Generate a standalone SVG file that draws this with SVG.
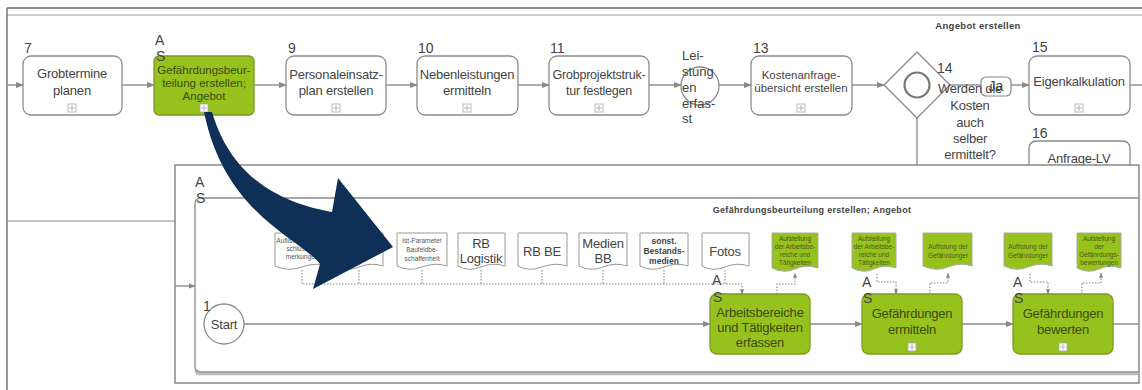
<svg xmlns="http://www.w3.org/2000/svg" width="1142" height="390" viewBox="0 0 1142 390">
<defs>
<style>
text{font-family:"Liberation Sans",Arial,sans-serif;fill:#444}
.t14{font-size:14px}.t13{font-size:13px}.t12{font-size:11.5px}
.n{font-size:13px;letter-spacing:-0.2px}
.c{text-anchor:middle}
.node{fill:#fff;stroke:#8a8a8a;stroke-width:1.3}
.green{fill:#97c21e;stroke:#7a9a22;stroke-width:1.3}
.flow{fill:none;stroke:#8a8a8a;stroke-width:1.4}
.dot{fill:none;stroke:#888;stroke-width:1.1;stroke-dasharray:1.5 1.5}
.doc{fill:#fff;stroke:#999;stroke-width:1}
.gdoc{fill:#97c21e;stroke:#aaa;stroke-width:1}
.tiny{font-size:6.5px;fill:#555}
.gt{font-size:6.5px;fill:#4b5a14}
.plus{fill:#fff;stroke:#aaa;stroke-width:0.8}
.gtext{fill:#3c4a10}
</style>
<marker id="ah" viewBox="0 0 8 8" refX="7" refY="4" markerWidth="6" markerHeight="6" orient="auto"><path d="M0,1 L8,4 L0,7 Z" fill="#888"/></marker>
<marker id="ahs" viewBox="0 0 8 8" refX="7" refY="4" markerWidth="5" markerHeight="5" orient="auto"><path d="M0,1 L8,4 L0,7 Z" fill="#888"/></marker>
<g id="plusicon"><rect x="-4" y="-4" width="8" height="8" class="plus"/><path d="M-3,0 H3 M0,-3 V3" stroke="#aaa" stroke-width="0.8"/></g>
</defs>
<rect width="1142" height="390" fill="#fff"/>

<!-- background frame of top diagram -->
<g id="frame">
<path d="M7,8 H1142" stroke="#666" stroke-width="1.5"/>
<path d="M7,15 H1142" stroke="#999" stroke-width="1.2"/>
<path d="M7,8 V390" stroke="#777" stroke-width="1.5"/>
<path d="M7,221 H175" stroke="#888" stroke-width="1.2"/>
<path d="M917,118 V165" stroke="#888" stroke-width="1.3"/>
<text x="978" y="29" class="c" style="font-size:9.5px;font-weight:bold;fill:#444;letter-spacing:0.3px">Angebot erstellen</text>
</g>

<!-- connectors top row -->
<g id="connectors-top">
<path class="flow" d="M7,85 H23" marker-end="url(#ah)"/>
<path class="flow" d="M122,85 H154" marker-end="url(#ah)"/>
<path class="flow" d="M254,85 H286" marker-end="url(#ah)"/>
<path class="flow" d="M386,85 H417" marker-end="url(#ah)"/>
<path class="flow" d="M518,85 H549" marker-end="url(#ah)"/>
<path class="flow" d="M649,85 H681" marker-end="url(#ah)"/>
<path class="flow" d="M719,85 H751" marker-end="url(#ah)"/>
<path class="flow" d="M852,85 H884" marker-end="url(#ah)"/>
<path class="flow" d="M950,85 H981"/>
<path class="flow" d="M1011,85 H1029" marker-end="url(#ah)"/>
<path class="flow" d="M1130,85 H1142"/>
</g>

<g id="n7">
<rect x="23" y="56" width="99" height="59" rx="8" class="node"/>
<text x="24" y="53" class="t14">7</text>
<text x="72" y="78" class="n c">Grobtermine</text>
<text x="72" y="95" class="n c">planen</text>
<use href="#plusicon" x="72" y="108"/>
</g>
<g id="n8">
<rect x="154" y="56" width="100" height="59" rx="5" class="green"/>
<text x="155" y="45" class="t14">A</text>
<text x="156" y="61" class="t14">S</text>
<text x="204" y="74" class="t12 c gtext">Gefährdungsbeur-</text>
<text x="204" y="87" class="t12 c gtext">teilung erstellen;</text>
<text x="204" y="100" class="t12 c gtext">Angebot</text>
<use href="#plusicon" x="204" y="108"/>
</g>
<g id="n9">
<rect x="286" y="56" width="100" height="59" rx="8" class="node"/>
<text x="288" y="53" class="t14">9</text>
<text x="336" y="79" class="n c">Personaleinsatz-</text>
<text x="336" y="95" class="n c">plan erstellen</text>
<use href="#plusicon" x="336" y="108"/>
</g>
<g id="n10">
<rect x="417" y="56" width="101" height="59" rx="8" class="node"/>
<text x="418" y="53" class="t14">10</text>
<text x="467" y="79" class="n c">Nebenleistungen</text>
<text x="467" y="95" class="n c">ermitteln</text>
<use href="#plusicon" x="467" y="108"/>
</g>
<g id="n11">
<rect x="549" y="56" width="100" height="59" rx="8" class="node"/>
<text x="550" y="53" class="t14">11</text>
<text x="599" y="79" class="c" style="font-size:12.5px;letter-spacing:-0.2px">Grobprojektstruk-</text>
<text x="599" y="95" class="c" style="font-size:12.5px;letter-spacing:-0.2px">tur festlegen</text>
<use href="#plusicon" x="599" y="108"/>
</g>
<g id="n12">
<circle cx="700" cy="86" r="19" fill="#fff" stroke="#8a8a8a" stroke-width="1.3"/>
<text x="682" y="60" class="t13">Lei-</text>
<text x="682" y="76" class="t13">stung</text>
<text x="682" y="92" class="t13">en</text>
<text x="682" y="108" class="t13">erfas-</text>
<text x="682" y="123" class="t13">st</text>
</g>
<g id="n13">
<rect x="751" y="56" width="101" height="59" rx="8" class="node"/>
<text x="753" y="53" class="t14">13</text>
<text x="801" y="79" class="c" style="font-size:11.5px">Kostenanfrage-</text>
<text x="801" y="92" class="c" style="font-size:11.5px">übersicht erstellen</text>
<use href="#plusicon" x="801" y="108"/>
</g>
<g id="n14">
<path d="M917,52 L950,85 L917,118 L884,85 Z" fill="#fff" stroke="#8a8a8a" stroke-width="1.3"/>
<circle cx="917" cy="85" r="12.5" fill="none" stroke="#777" stroke-width="2.2"/>
<text x="937" y="73" class="t14">14</text>
<rect x="981" y="77" width="30" height="19" rx="5" fill="#fff" stroke="#8a8a8a" stroke-width="1.2"/>
<text x="996" y="91" class="t14 c">Ja</text>
<text x="970" y="93" class="n c">Werden die</text>
<text x="970" y="110" class="n c">Kosten</text>
<text x="970" y="127" class="n c">auch</text>
<text x="970" y="143" class="n c">selber</text>
<text x="970" y="159" class="n c">ermittelt?</text>
</g>
<g id="n15">
<rect x="1029" y="56" width="101" height="59" rx="8" class="node"/>
<text x="1032" y="52" class="t14">15</text>
<text x="1079" y="86" class="n c">Eigenkalkulation</text>
<use href="#plusicon" x="1079" y="108"/>
</g>
<g id="n16">
<path d="M1029,165 V149 Q1029,141 1037,141 H1122 Q1130,141 1130,149 V165" class="node"/>
<text x="1032" y="138" class="t14">16</text>
<text x="1079" y="163" class="n c">Anfrage-LV</text>
</g>

<!-- overlay panel -->
<g id="panel">
<rect x="175" y="165" width="964" height="218" fill="#fff" stroke="#777" stroke-width="1.3"/>
<path d="M1139,374 H199 Q196,374 196,370" fill="none" stroke="#bbb" stroke-width="2.5"/>
<path d="M1139,198 H201 Q195,198 195,204 V366 Q195,372 201,372 H1139" fill="none" stroke="#8a8a8a" stroke-width="1.3"/>
<text x="195" y="187" class="t14">A</text>
<text x="196" y="203" class="t14">S</text>
<text x="812" y="213" class="c" style="font-size:9px;font-weight:bold;fill:#444;letter-spacing:0.3px">Gefährdungsbeurteilung erstellen; Angebot</text>
</g>

<!-- connectors bottom -->
<g id="connectors-bottom">
<path class="flow" d="M175,286 H195" marker-end="url(#ahs)"/>
<path class="flow" d="M244,324 H710" marker-end="url(#ah)"/>
<path class="flow" d="M810,324 H862" marker-end="url(#ah)"/>
<path class="flow" d="M962,324 H1013" marker-end="url(#ah)"/>
<path class="flow" d="M1113,324 H1139"/>
<path class="dot" d="M302,270 V284 H742 V294" marker-end="url(#ahs)"/>
<path class="dot" d="M359,270 V284 M422,270 V284 M481,270 V284 M542,270 V284 M603,270 V284 M664,270 V284 M725,270 V284"/>
<path class="dot" d="M777,294 V284 H795 V273" marker-end="url(#ahs)"/>
<path class="dot" d="M877,274 V282 H896 V294" marker-end="url(#ahs)"/>
<path class="dot" d="M930,294 V283 H948 V273" marker-end="url(#ahs)"/>
<path class="dot" d="M1030,274 V282 H1048 V294" marker-end="url(#ahs)"/>
<path class="dot" d="M1082,294 V283 H1101 V273" marker-end="url(#ahs)"/>
</g>

<!-- documents -->
<g id="d1"><path class="doc" d="M275,233 H330 V266 Q316,262 302,267 T275,266 Z"/>
<text x="302" y="243" class="tiny c">Auflistung der Ab-</text><text x="302" y="251" class="tiny c">schlussbe-</text><text x="302" y="259" class="tiny c">merkungen</text></g>
<g id="d2"><path class="doc" d="M335,233 H383 V266 Q371,262 359,267 T335,266 Z"/></g>
<g id="d3"><path class="doc" d="M397,233 H447 V266 Q435,262 422,267 T397,266 Z"/>
<text x="422" y="243" class="tiny c">Ist-Parameter</text><text x="422" y="252" class="tiny c">Baufeldbe-</text><text x="422" y="261" class="tiny c">schaffenheit</text></g>
<g id="d4"><path class="doc" d="M458,233 H505 V266 Q493,262 481,267 T458,266 Z"/>
<text x="481" y="248" class="n c">RB</text><text x="481" y="263" class="n c">Logistik</text></g>
<g id="d5"><path class="doc" d="M518,233 H567 V266 Q555,262 542,267 T518,266 Z"/>
<text x="542" y="256" class="n c">RB BE</text></g>
<g id="d6"><path class="doc" d="M579,233 H627 V266 Q615,262 603,267 T579,266 Z"/>
<text x="603" y="248" class="n c">Medien</text><text x="603" y="263" class="n c">BB</text></g>
<g id="d7"><path class="doc" d="M640,233 H688 V266 Q676,262 664,267 T640,266 Z"/>
<text x="664" y="244" class="c" style="font-size:8.5px;font-weight:bold">sonst.</text><text x="664" y="254" class="c" style="font-size:8.5px;font-weight:bold">Bestands-</text><text x="664" y="264" class="c" style="font-size:8.5px;font-weight:bold">medien</text></g>
<g id="d8"><path class="doc" d="M702,233 H749 V266 Q737,262 725,267 T702,266 Z"/>
<text x="725" y="256" class="n c">Fotos</text></g>
<g id="g1"><path class="gdoc" d="M772,233 H818 V268 Q806,264 795,269 T772,268 Z"/>
<text x="795" y="241" class="gt c">Aufstellung</text><text x="795" y="249" class="gt c">der Arbeitsbe-</text><text x="795" y="257" class="gt c">reiche und</text><text x="795" y="265" class="gt c">Tätigkeiten</text></g>
<g id="g2"><path class="gdoc" d="M852,233 H896 V268 Q885,264 874,269 T852,268 Z"/>
<text x="874" y="241" class="gt c">Aufstellung</text><text x="874" y="249" class="gt c">der Arbeitsbe-</text><text x="874" y="257" class="gt c">reiche und</text><text x="874" y="265" class="gt c">Tätigkeiten</text></g>
<g id="g3"><path class="gdoc" d="M923,233 H972 V266 Q960,262 948,267 T923,266 Z"/>
<text x="948" y="249" class="gt c">Auflistung der</text><text x="948" y="258" class="gt c">Gefährdunger</text></g>
<g id="g4"><path class="gdoc" d="M1004,233 H1052 V266 Q1040,262 1028,267 T1004,266 Z"/>
<text x="1028" y="249" class="gt c">Auflistung der</text><text x="1028" y="258" class="gt c">Gefährdunger</text></g>
<g id="g5"><path class="gdoc" d="M1077,233 H1121 V268 Q1110,264 1099,269 T1077,268 Z"/>
<text x="1099" y="241" class="gt c">Aufstellung</text><text x="1099" y="249" class="gt c">der</text><text x="1099" y="257" class="gt c">Gefährdungs-</text><text x="1099" y="265" class="gt c">bewertungen</text></g>

<!-- bottom nodes -->
<g id="start">
<circle cx="224" cy="324" r="20" fill="#fff" stroke="#8a8a8a" stroke-width="1.3"/>
<text x="203" y="311" class="t14">1</text>
<text x="224" y="329" class="n c">Start</text>
</g>
<g id="ta">
<rect x="710" y="294" width="100" height="60" rx="7" class="green"/>
<text x="712" y="285" class="t14">A</text>
<text x="713" y="302" class="t14">S</text>
<text x="760" y="317" class="n c gtext">Arbeitsbereiche</text>
<text x="760" y="332" class="n c gtext">und Tätigkeiten</text>
<text x="760" y="347" class="n c gtext">erfassen</text>
</g>
<g id="tb">
<rect x="862" y="294" width="100" height="60" rx="7" class="green"/>
<text x="862" y="287" class="t14">A</text>
<text x="863" y="303" class="t14">S</text>
<text x="912" y="318" class="n c gtext">Gefährdungen</text>
<text x="912" y="334" class="n c gtext">ermitteln</text>
<use href="#plusicon" x="912" y="347"/>
</g>
<g id="tc">
<rect x="1013" y="294" width="100" height="60" rx="7" class="green"/>
<text x="1013" y="287" class="t14">A</text>
<text x="1014" y="303" class="t14">S</text>
<text x="1063" y="318" class="n c gtext">Gefährdungen</text>
<text x="1063" y="334" class="n c gtext">bewerten</text>
<use href="#plusicon" x="1063" y="347"/>
</g>

<!-- big curved arrow -->
<g id="big-arrow">
<path d="M204,112 L212,112 C224,152 252,198 332,212 L338,178 L393,247 L313,289 L320,264 C300,238 225,215 204,112 Z" fill="#0e2f56"/>
</g>
</svg>
